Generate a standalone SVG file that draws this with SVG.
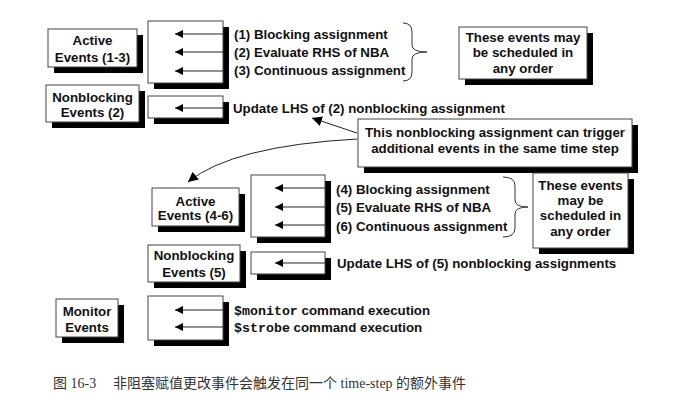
<svg xmlns="http://www.w3.org/2000/svg" width="698" height="416" viewBox="0 0 698 416">
<style>
.sh{fill:#000}
.bx{fill:#fff;stroke:#444;stroke-width:1}
.t{font-family:"Liberation Sans",Arial,sans-serif;font-weight:bold;font-size:13.3px;fill:#111}
.m{font-family:"Liberation Mono","Courier New",monospace;font-weight:bold;font-size:13.3px}
.c{text-anchor:middle}
.ln{stroke:#222;stroke-width:1;fill:none}
.br{stroke:#333;stroke-width:1;fill:none}
.cap{font-family:"Liberation Serif","Noto Sans CJK SC",serif;font-size:14px;fill:#333}
</style>
<defs>
<marker id="ah" markerUnits="userSpaceOnUse" markerWidth="10" markerHeight="8" refX="8" refY="4" orient="auto">
<path d="M0,0 L8,4 L0,8 z" fill="#000"/>
</marker>
<marker id="ah2" markerUnits="userSpaceOnUse" markerWidth="12" markerHeight="10" refX="10" refY="5" orient="auto">
<path d="M0,0 L10,5 L0,10 z" fill="#000"/>
</marker>
</defs>
<rect width="698" height="416" fill="#fff"/>

<g id="active1">
<rect class="sh" x="54" y="35" width="89" height="38"/>
<rect class="bx" x="48" y="29" width="89" height="38"/>
<text class="t c" x="92.5" y="45">Active</text>
<text class="t c" x="92.5" y="62">Events (1-3)</text>
</g>
<g id="queue1">
<rect class="sh" x="154" y="27" width="75" height="62"/>
<rect class="bx" x="148" y="21" width="75" height="62"/>
</g>
<g id="nb2">
<rect class="sh" x="52" y="91" width="93" height="37"/>
<rect class="bx" x="46" y="85" width="93" height="37"/>
<text class="t c" x="92.5" y="102">Nonblocking</text>
<text class="t c" x="92.5" y="117">Events (2)</text>
</g>
<g id="queue2">
<rect class="sh" x="154" y="102" width="75" height="22"/>
<rect class="bx" x="148" y="96" width="75" height="22"/>
</g>
<g id="note1">
<rect class="sh" x="465" y="33" width="128" height="52"/>
<rect class="bx" x="459" y="27" width="128" height="52"/>
<text class="t c" x="523" y="42">These events may</text>
<text class="t c" x="523" y="57">be scheduled in</text>
<text class="t c" x="523" y="73">any order</text>
</g>
<g id="callout">
<rect class="sh" x="364" y="125" width="274" height="48"/>
<rect class="bx" x="358" y="119" width="274" height="48"/>
<text class="t c" x="495" y="137">This nonblocking assignment can trigger</text>
<text class="t c" x="495" y="153">additional events in the same time step</text>
</g>
<g id="active2">
<rect class="sh" x="158" y="194" width="87" height="38"/>
<rect class="bx" x="152" y="188" width="87" height="38"/>
<text class="t c" x="195.5" y="206">Active</text>
<text class="t c" x="195.5" y="220">Events (4-6)</text>
</g>
<g id="queue3">
<rect class="sh" x="257" y="181" width="74" height="62"/>
<rect class="bx" x="251" y="175" width="74" height="62"/>
</g>
<g id="note2">
<rect class="sh" x="539" y="179" width="95" height="75"/>
<rect class="bx" x="533" y="173" width="95" height="75"/>
<text class="t c" x="580.5" y="190">These events</text>
<text class="t c" x="580.5" y="205">may be</text>
<text class="t c" x="580.5" y="220">scheduled in</text>
<text class="t c" x="580.5" y="236">any order</text>
</g>
<g id="nb5">
<rect class="sh" x="154" y="251" width="92" height="37"/>
<rect class="bx" x="148" y="245" width="92" height="37"/>
<text class="t c" x="194" y="260">Nonblocking</text>
<text class="t c" x="194" y="277">Events (5)</text>
</g>
<g id="queue4">
<rect class="sh" x="257" y="258" width="74" height="22"/>
<rect class="bx" x="251" y="252" width="74" height="22"/>
</g>
<g id="monitor">
<rect class="sh" x="62" y="305" width="62" height="38"/>
<rect class="bx" x="56" y="299" width="62" height="38"/>
<text class="t c" x="87" y="316">Monitor</text>
<text class="t c" x="87" y="332">Events</text>
</g>
<g id="queue5">
<rect class="sh" x="154" y="302" width="75" height="44"/>
<rect class="bx" x="148" y="296" width="75" height="44"/>
</g>

<g id="labels">
<text class="t" x="234" y="39">(1) Blocking assignment</text>
<text class="t" x="234" y="57">(2) Evaluate RHS of NBA</text>
<text class="t" x="234" y="75">(3) Continuous assignment</text>
<text class="t" x="233" y="113">Update LHS of (2) nonblocking assignment</text>
<text class="t" x="336" y="194">(4) Blocking assignment</text>
<text class="t" x="336" y="212">(5) Evaluate RHS of NBA</text>
<text class="t" x="336" y="231">(6) Continuous assignment</text>
<text class="t" x="337" y="268">Update LHS of (5) nonblocking assignments</text>
<text class="t" x="234" y="315"><tspan class="m">$monitor</tspan> command execution</text>
<text class="t" x="234" y="332"><tspan class="m">$strobe</tspan> command execution</text>
</g>

<g id="connectors">
<line class="ln" x1="223" y1="34" x2="175" y2="34" marker-end="url(#ah)"/>
<line class="ln" x1="223" y1="52" x2="175" y2="52" marker-end="url(#ah)"/>
<line class="ln" x1="223" y1="71" x2="175" y2="71" marker-end="url(#ah)"/>
<line class="ln" x1="223" y1="108" x2="175" y2="108" marker-end="url(#ah)"/>
<line class="ln" x1="325" y1="188" x2="275" y2="188" marker-end="url(#ah)"/>
<line class="ln" x1="325" y1="207" x2="275" y2="207" marker-end="url(#ah)"/>
<line class="ln" x1="325" y1="225" x2="275" y2="225" marker-end="url(#ah)"/>
<line class="ln" x1="325" y1="263" x2="275" y2="263" marker-end="url(#ah)"/>
<line class="ln" x1="223" y1="310" x2="175" y2="310" marker-end="url(#ah)"/>
<line class="ln" x1="223" y1="327" x2="175" y2="327" marker-end="url(#ah)"/>
<line class="ln" x1="357" y1="133" x2="312" y2="118" marker-end="url(#ah2)"/>
<path class="ln" d="M357,139 Q232,146 188,182" marker-end="url(#ah2)"/>
<path class="br" d="M403,23 Q412,23 412,32 L412,45 Q412,52 427,52 Q412,52 412,59 L412,72 Q412,81 403,81"/>
<path class="br" d="M503,177 Q515,177 515,186 L515,200 Q515,207 528,207 Q515,207 515,214 L515,228 Q515,237 503,237"/>
</g>

<text class="cap" x="53" y="388">图 16-3</text>
<text class="cap" x="113" y="388">非阻塞赋值更改事件会触发在同一个 time-step 的额外事件</text>
</svg>
